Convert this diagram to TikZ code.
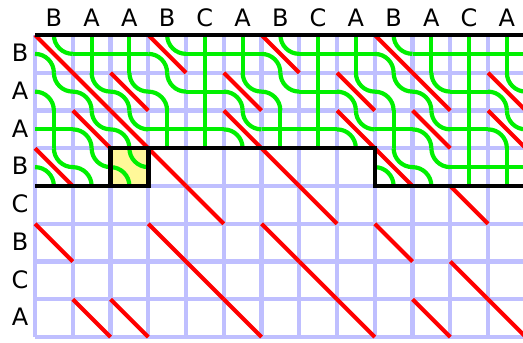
\documentclass[tikz,border=0pt]{standalone}
\usepackage{fontspec}
\setmainfont{DejaVu Sans}
\begin{document}
\begin{tikzpicture}[x=37.75pt,y=37.75pt,
  gridline/.style={draw=gridColor,line width=4.2pt},
  matchdiag/.style={draw=matchColor,line width=4pt},
  seaweed/.style={draw=weedColor,line width=4.2pt},
  frontier/.style={draw=black,line width=4.5pt,line join=miter},
  letter/.style={text=black,anchor=base,inner sep=0pt,outer sep=0pt,font=\fontsize{24}{28}\selectfont}]
\definecolor{gridColor}{RGB}{191,191,255}
\definecolor{matchColor}{RGB}{255,0,0}
\definecolor{weedColor}{RGB}{0,240,0}
\definecolor{fillColor}{RGB}{255,248,153}
\path[use as bounding box] (-0.9272,-0.1589) rectangle (12.9272,8.9272);
\begin{scope}
\path[clip] (-0.9272,-0.1589) rectangle (12.9272,8.9272);

% grid
\path[gridline] ( 0,0) -- ( 0,8);
\path[gridline] ( 1,0) -- ( 1,8);
\path[gridline] ( 2,0) -- ( 2,8);
\path[gridline] ( 3,0) -- ( 3,8);
\path[gridline] ( 4,0) -- ( 4,8);
\path[gridline] ( 5,0) -- ( 5,8);
\path[gridline] ( 6,0) -- ( 6,8);
\path[gridline] ( 7,0) -- ( 7,8);
\path[gridline] ( 8,0) -- ( 8,8);
\path[gridline] ( 9,0) -- ( 9,8);
\path[gridline] (10,0) -- (10,8);
\path[gridline] (11,0) -- (11,8);
\path[gridline] (12,0) -- (12,8);
\path[gridline] (13,0) -- (13,8);

\path[gridline] (0,0) -- (13.2,0);
\path[gridline] (0,1) -- (13.2,1);
\path[gridline] (0,2) -- (13.2,2);
\path[gridline] (0,3) -- (13.2,3);
\path[gridline] (0,4) -- (13.2,4);
\path[gridline] (0,5) -- (13.2,5);
\path[gridline] (0,6) -- (13.2,6);
\path[gridline] (0,7) -- (13.2,7);
\path[gridline] (0,8) -- (13.2,8);

% current cell
\path[fill=fillColor] (2,4) rectangle (3,5);

% matches
\path[matchdiag] (0,8) -- (1,7) (3,8) -- (4,7) (6,8) -- (7,7) (9,8) -- (10,7);
\path[matchdiag] (1,7) -- (2,6) (2,7) -- (3,6) (5,7) -- (6,6) (8,7) -- (9,6) (10,7) -- (11,6) (12,7) -- (13,6);
\path[matchdiag] (1,6) -- (2,5) (2,6) -- (3,5) (5,6) -- (6,5) (8,6) -- (9,5) (10,6) -- (11,5) (12,6) -- (13,5);
\path[matchdiag] (0,5) -- (1,4) (3,5) -- (4,4) (6,5) -- (7,4) (9,5) -- (10,4);
\path[matchdiag] (4,4) -- (5,3) (7,4) -- (8,3) (11,4) -- (12,3);
\path[matchdiag] (0,3) -- (1,2) (3,3) -- (4,2) (6,3) -- (7,2) (9,3) -- (10,2);
\path[matchdiag] (4,2) -- (5,1) (7,2) -- (8,1) (11,2) -- (12,1);
\path[matchdiag] (1,1) -- (2,0) (2,1) -- (3,0) (5,1) -- (6,0) (8,1) -- (9,0) (10,1) -- (11,0) (12,1) -- (13,0);

% seaweeds, row 0
\path[seaweed] ( 0.5,8) arc[start angle=180,end angle=270,radius=0.5] ( 0,7.5) arc[start angle=90,end angle=0,radius=0.5]
  ( 3.5,8) arc[start angle=180,end angle=270,radius=0.5] ( 3,7.5) arc[start angle=90,end angle=0,radius=0.5]
  ( 6.5,8) arc[start angle=180,end angle=270,radius=0.5] ( 6,7.5) arc[start angle=90,end angle=0,radius=0.5]
  ( 9.5,8) arc[start angle=180,end angle=270,radius=0.5] ( 9,7.5) arc[start angle=90,end angle=0,radius=0.5];
\path[seaweed] (1,7.5) -- (3,7.5) (4,7.5) -- (6,7.5) (7,7.5) -- (9,7.5) (10,7.5) -- (13.2,7.5)
  ( 1.5,8) -- ( 1.5,7) ( 2.5,8) -- ( 2.5,7) ( 4.5,8) -- ( 4.5,7) ( 5.5,8) -- ( 5.5,7)
  ( 7.5,8) -- ( 7.5,7) ( 8.5,8) -- ( 8.5,7) (10.5,8) -- (10.5,7) (11.5,8) -- (11.5,7) (12.5,8) -- (12.5,7);

% seaweeds, row 1
\path[seaweed] ( 0.5,7) arc[start angle=180,end angle=270,radius=0.5] ( 0,6.5) arc[start angle=90,end angle=0,radius=0.5]
  ( 1.5,7) arc[start angle=180,end angle=270,radius=0.5] ( 1,6.5) arc[start angle=90,end angle=0,radius=0.5]
  ( 2.5,7) arc[start angle=180,end angle=270,radius=0.5] ( 2,6.5) arc[start angle=90,end angle=0,radius=0.5]
  ( 3.5,7) arc[start angle=180,end angle=270,radius=0.5] ( 3,6.5) arc[start angle=90,end angle=0,radius=0.5]
  ( 5.5,7) arc[start angle=180,end angle=270,radius=0.5] ( 5,6.5) arc[start angle=90,end angle=0,radius=0.5]
  ( 6.5,7) arc[start angle=180,end angle=270,radius=0.5] ( 6,6.5) arc[start angle=90,end angle=0,radius=0.5]
  ( 8.5,7) arc[start angle=180,end angle=270,radius=0.5] ( 8,6.5) arc[start angle=90,end angle=0,radius=0.5]
  ( 9.5,7) arc[start angle=180,end angle=270,radius=0.5] ( 9,6.5) arc[start angle=90,end angle=0,radius=0.5]
  (10.5,7) arc[start angle=180,end angle=270,radius=0.5] (10,6.5) arc[start angle=90,end angle=0,radius=0.5]
  (12.5,7) arc[start angle=180,end angle=270,radius=0.5] (12,6.5) arc[start angle=90,end angle=0,radius=0.5];
\path[seaweed] (4,6.5) -- (5,6.5) (7,6.5) -- (8,6.5) (11,6.5) -- (12,6.5)
  ( 4.5,7) -- ( 4.5,6) ( 7.5,7) -- ( 7.5,6) (11.5,7) -- (11.5,6);

% seaweeds, row 2
\path[seaweed] ( 1.5,6) arc[start angle=180,end angle=270,radius=0.5] ( 1,5.5) arc[start angle=90,end angle=0,radius=0.5]
  ( 2.5,6) arc[start angle=180,end angle=270,radius=0.5] ( 2,5.5) arc[start angle=90,end angle=0,radius=0.5]
  ( 5.5,6) arc[start angle=180,end angle=270,radius=0.5] ( 5,5.5) arc[start angle=90,end angle=0,radius=0.5]
  ( 8.5,6) arc[start angle=180,end angle=270,radius=0.5] ( 8,5.5) arc[start angle=90,end angle=0,radius=0.5]
  (10.5,6) arc[start angle=180,end angle=270,radius=0.5] (10,5.5) arc[start angle=90,end angle=0,radius=0.5]
  (12.5,6) arc[start angle=180,end angle=270,radius=0.5] (12,5.5) arc[start angle=90,end angle=0,radius=0.5];
\path[seaweed] (0,5.5) -- (1,5.5) (3,5.5) -- (5,5.5) (6,5.5) -- (8,5.5) (9,5.5) -- (10,5.5) (11,5.5) -- (12,5.5)
  ( 0.5,6) -- ( 0.5,5) ( 3.5,6) -- ( 3.5,5) ( 4.5,6) -- ( 4.5,5) ( 6.5,6) -- ( 6.5,5)
  ( 7.5,6) -- ( 7.5,5) ( 9.5,6) -- ( 9.5,5) (11.5,6) -- (11.5,5);

% seaweeds, row 3
\path[seaweed] ( 0.5,5) arc[start angle=180,end angle=270,radius=0.5] ( 0,4.5) arc[start angle=90,end angle=0,radius=0.5]
  ( 1.5,5) arc[start angle=180,end angle=270,radius=0.5] ( 1,4.5) arc[start angle=90,end angle=0,radius=0.5]
  ( 2.5,5) arc[start angle=180,end angle=270,radius=0.5] ( 2,4.5) arc[start angle=90,end angle=0,radius=0.5]
  ( 9.5,5) arc[start angle=180,end angle=270,radius=0.5] ( 9,4.5) arc[start angle=90,end angle=0,radius=0.5]
  (10.5,5) arc[start angle=180,end angle=270,radius=0.5] (10,4.5) arc[start angle=90,end angle=0,radius=0.5];
\path[seaweed] (11,4.5) -- (13.2,4.5)
  (11.5,5) -- (11.5,4) (12.5,5) -- (12.5,4);

% frontier
\path[frontier] (0,8) -- (13.2,8);
\path[frontier] (2,4) rectangle (3,5);
\path[frontier] (0,4) -- (2,4);
\path[frontier] (3,5) -- (9,5) -- (9,4) -- (13.2,4);
\end{scope}

% labels
\node[letter] (col0)  at ( 0.5,8.22) {B};
\node[letter] (col1)  at ( 1.5,8.22) {A};
\node[letter] (col2)  at ( 2.5,8.22) {A};
\node[letter] (col3)  at ( 3.5,8.22) {B};
\node[letter] (col4)  at ( 4.5,8.22) {C};
\node[letter] (col5)  at ( 5.5,8.22) {A};
\node[letter] (col6)  at ( 6.5,8.22) {B};
\node[letter] (col7)  at ( 7.5,8.22) {C};
\node[letter] (col8)  at ( 8.5,8.22) {A};
\node[letter] (col9)  at ( 9.5,8.22) {B};
\node[letter] (col10) at (10.5,8.22) {A};
\node[letter] (col11) at (11.5,8.22) {C};
\node[letter] (col12) at (12.5,8.22) {A};

\node[letter] (row0) at (-0.397,7.296) {B};
\node[letter] (row1) at (-0.397,6.296) {A};
\node[letter] (row2) at (-0.397,5.296) {A};
\node[letter] (row3) at (-0.397,4.296) {B};
\node[letter] (row4) at (-0.397,3.296) {C};
\node[letter] (row5) at (-0.397,2.296) {B};
\node[letter] (row6) at (-0.397,1.296) {C};
\node[letter] (row7) at (-0.397,0.296) {A};
\end{tikzpicture}
\end{document}
